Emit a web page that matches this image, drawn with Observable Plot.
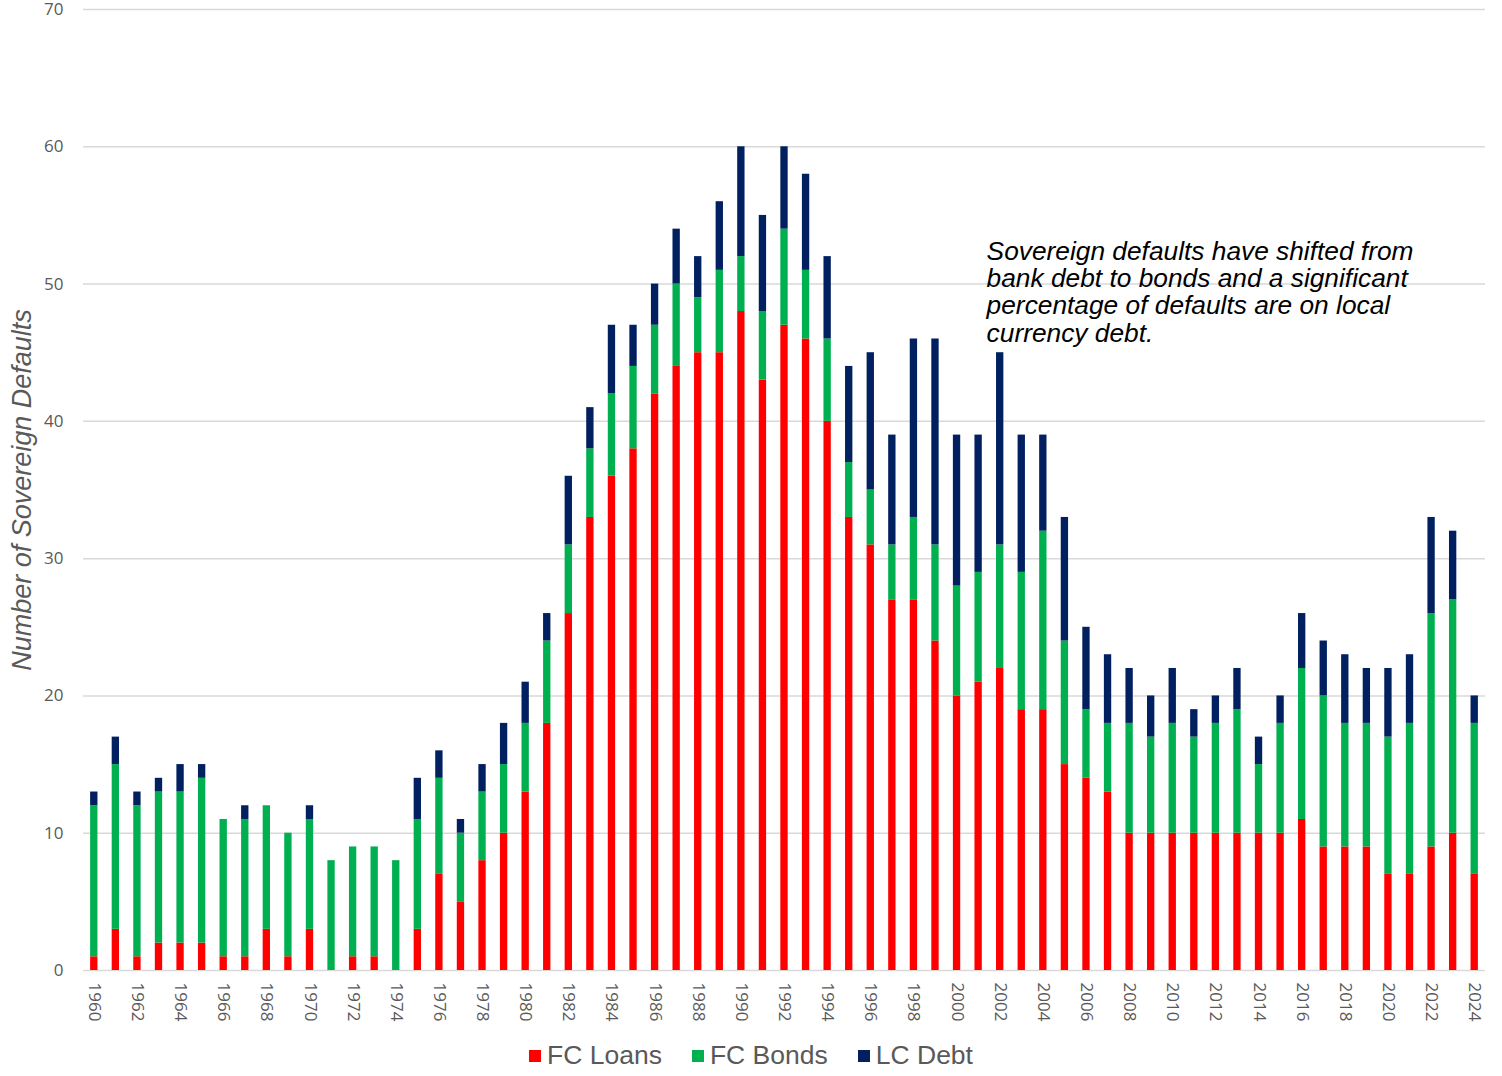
<!DOCTYPE html>
<html>
<head>
<meta charset="utf-8">
<script src="https://cdn.jsdelivr.net/npm/d3@7"></script>
<script src="https://cdn.jsdelivr.net/npm/@observablehq/plot@0.6"></script>
<style>
  html, body { margin: 0; padding: 0; background: #fff; }
  #chart { width: 1502px; }
  .legend { display: flex; justify-content: center; align-items: center; gap: 30px;
    font-family: "Liberation Sans", Arial, sans-serif; font-size: 26.5px; color: #595959; height: 41px; }
  .legend span.item { display: flex; align-items: center; }
  .legend span.sw { display: inline-block; width: 12px; height: 12px; margin-right: 6px; }
</style>
</head>
<body>
<div id="chart"></div>
<script>
const years = ["1960","1961","1962","1963","1964","1965","1966","1967","1968","1969",
  "1970","1971","1972","1973","1974","1975","1976","1977","1978","1979",
  "1980","1981","1982","1983","1984","1985","1986","1987","1988","1989",
  "1990","1991","1992","1993","1994","1995","1996","1997","1998","1999",
  "2000","2001","2002","2003","2004","2005","2006","2007","2008","2009",
  "2010","2011","2012","2013","2014","2015","2016","2017","2018","2019",
  "2020","2021","2022","2023","2024"];

const fcLoans = [1,3,1,2,2,2,1,1,3,1,
  3,0,1,1,0,3,7,5,8,10,
  13,18,26,33,36,38,42,44,45,45,
  48,43,47,46,40,33,31,27,27,24,
  20,21,22,19,19,15,14,13,10,10,
  10,10,10,10,10,10,11,9,9,9,
  7,7,9,10,7];

const fcBonds = [11,12,11,11,11,12,10,10,9,9,
  8,8,8,8,8,8,7,5,5,5,
  5,6,5,5,6,6,5,6,4,6,
  4,5,7,5,6,4,4,4,6,7,
  8,8,9,10,13,9,5,5,8,7,
  8,7,8,9,5,8,11,11,9,9,
  10,11,17,17,11];

const lcDebt = [1,2,1,1,2,1,0,1,0,0,
  1,0,0,0,0,3,2,1,2,3,
  3,2,5,3,5,3,3,4,3,5,
  8,7,6,7,6,7,10,8,13,15,
  11,10,14,10,7,9,6,5,4,3,
  4,2,2,3,2,2,4,4,5,4,
  5,5,7,5,2];

const seriesNames = ["FC Loans", "FC Bonds", "LC Debt"];
const seriesColors = ["#FF0000", "#00B050", "#002060"];
const yTicks = [0,10,20,30,40,50,60,70];
const xTickLabels = years.filter((y, i) => i % 2 === 0);

const annotation = "Sovereign defaults have shifted from\nbank debt to bonds and a significant\npercentage of defaults are on local\ncurrency debt.";
const yLabel = "Number of Sovereign Defaults";

const rows = [];
years.forEach((yr, i) => {
  rows.push({year: yr, series: seriesNames[0], value: fcLoans[i]});
  rows.push({year: yr, series: seriesNames[1], value: fcBonds[i]});
  rows.push({year: yr, series: seriesNames[2], value: lcDebt[i]});
});

const chart = Plot.plot({
  width: 1502,
  height: 1035,
  marginLeft: 83,
  marginRight: 17,
  marginTop: 9,
  marginBottom: 65,
  style: {fontFamily: "'Open Sans', sans-serif", background: "#fff", overflow: "visible"},
  x: {domain: years, paddingInner: 0.66, paddingOuter: 0.33, label: null},
  y: {domain: [0, 70], label: null},
  color: {domain: seriesNames, range: seriesColors},
  marks: [
    Plot.ruleY(yTicks, {stroke: "#d9d9d9", strokeWidth: 1.5}),
    Plot.barY(rows, {x: "year", y: "value", fill: "series", order: seriesNames}),
    Plot.axisY({ticks: yTicks, tickSize: 0, tickPadding: 20, fontSize: 17, fill: "#595959", label: null}),
    Plot.axisX({ticks: xTickLabels, tickSize: 0, tickPadding: 12, tickRotate: 90, fontSize: 17, fill: "#595959", label: null}),
    Plot.text([yLabel], {frameAnchor: "left", text: d => d, rotate: -90, dx: -61, textAnchor: "middle",
      fontSize: 27, fontStyle: "italic", fill: "#595959", fontFamily: "'Liberation Sans', Arial, sans-serif"}),
    Plot.text([annotation], {x: () => "2001", y: () => 53.2, text: d => d, dx: 8, textAnchor: "start",
      lineAnchor: "top", lineHeight: 1.04, fontSize: 26.3, fontStyle: "italic", fill: "#000",
      fontFamily: "'Liberation Sans', Arial, sans-serif"})
  ]
});

document.getElementById("chart").appendChild(chart);

const legend = document.createElement("div");
legend.className = "legend";
seriesNames.forEach((name, i) => {
  const item = document.createElement("span");
  item.className = "item";
  const sw = document.createElement("span");
  sw.className = "sw";
  sw.style.background = seriesColors[i];
  item.appendChild(sw);
  item.appendChild(document.createTextNode(name));
  legend.appendChild(item);
});
document.getElementById("chart").appendChild(legend);
</script>
</body>
</html>
